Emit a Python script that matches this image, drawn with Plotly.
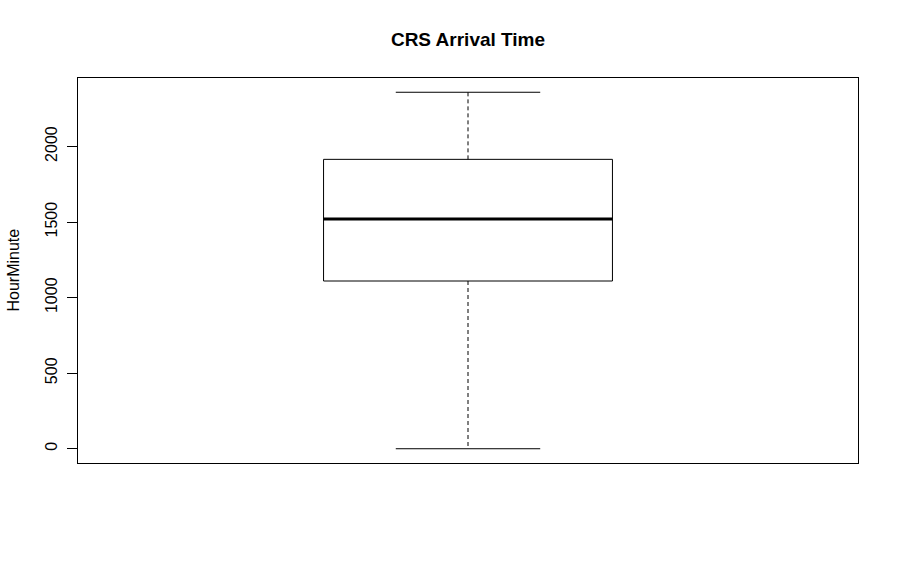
import plotly.graph_objects as go

# Data
categories = [1]
lower_whisker = [0]
q1 = [1110]
median = [1520]
q3 = [1915]
upper_whisker = [2359]
y_ticks = [0, 500, 1000, 1500, 2000]
y_tick_labels = ["0", "500", "1000", "1500", "2000"]

BOX_HALF = 0.2
CAP_HALF = 0.1

fig = go.Figure()
for i, c in enumerate(categories):
    # box rectangle
    fig.add_trace(go.Scatter(
        x=[c - BOX_HALF, c + BOX_HALF, c + BOX_HALF, c - BOX_HALF, c - BOX_HALF],
        y=[q1[i], q1[i], q3[i], q3[i], q1[i]],
        mode="lines", line=dict(color="black", width=1), hoverinfo="skip"))
    # median
    fig.add_trace(go.Scatter(
        x=[c - BOX_HALF, c + BOX_HALF], y=[median[i], median[i]],
        mode="lines", line=dict(color="black", width=3), hoverinfo="skip"))
    # whiskers (dashed)
    fig.add_trace(go.Scatter(
        x=[c, c], y=[q3[i], upper_whisker[i]],
        mode="lines", line=dict(color="black", width=1, dash="4px,3px"), hoverinfo="skip"))
    fig.add_trace(go.Scatter(
        x=[c, c], y=[q1[i], lower_whisker[i]],
        mode="lines", line=dict(color="black", width=1, dash="4px,3px"), hoverinfo="skip"))
    # staples
    fig.add_trace(go.Scatter(
        x=[c - CAP_HALF, c + CAP_HALF], y=[upper_whisker[i], upper_whisker[i]],
        mode="lines", line=dict(color="black", width=1), hoverinfo="skip"))
    fig.add_trace(go.Scatter(
        x=[c - CAP_HALF, c + CAP_HALF], y=[lower_whisker[i], lower_whisker[i]],
        mode="lines", line=dict(color="black", width=1), hoverinfo="skip"))

ymin = min(lower_whisker)
ymax = max(upper_whisker)
pad = 0.04 * (ymax - ymin)
xmin = min(categories) - 0.5
xmax = max(categories) + 0.5
xpad = 0.04 * (xmax - xmin)

fig.update_layout(
    width=898, height=561,
    margin=dict(l=78, r=40, t=78, b=98),
    paper_bgcolor="white", plot_bgcolor="white",
    showlegend=False,
    font=dict(family="Liberation Sans, Arial, sans-serif", color="black", size=16),
    title=dict(text="CRS Arrival Time", x=0.5, xref="paper", xanchor="center",
               y=1 - 39 / 561, yref="container", yanchor="middle",
               font=dict(size=19, color="black", weight="bold")),
    xaxis=dict(range=[xmin - xpad, xmax + xpad], showticklabels=False, ticks="",
               showgrid=False, zeroline=False, showline=True, mirror=True,
               linecolor="black", linewidth=1),
    yaxis=dict(range=[ymin - pad, ymax + pad], tickvals=y_ticks, ticktext=y_tick_labels,
               tickangle=-90, ticks="outside", ticklen=10, tickcolor="black", tickwidth=1,
               ticklabelstandoff=4,
               showgrid=False, zeroline=False, showline=True, mirror=True,
               linecolor="black", linewidth=1, tickfont=dict(size=16)),
    annotations=[dict(text="HourMinute", textangle=-90, xref="paper", yref="paper",
                      x=0, y=0.5, xanchor="center", yanchor="middle",
                      xshift=-65, showarrow=False, font=dict(size=16, color="black"))],
)

fig.write_html("out.html")
